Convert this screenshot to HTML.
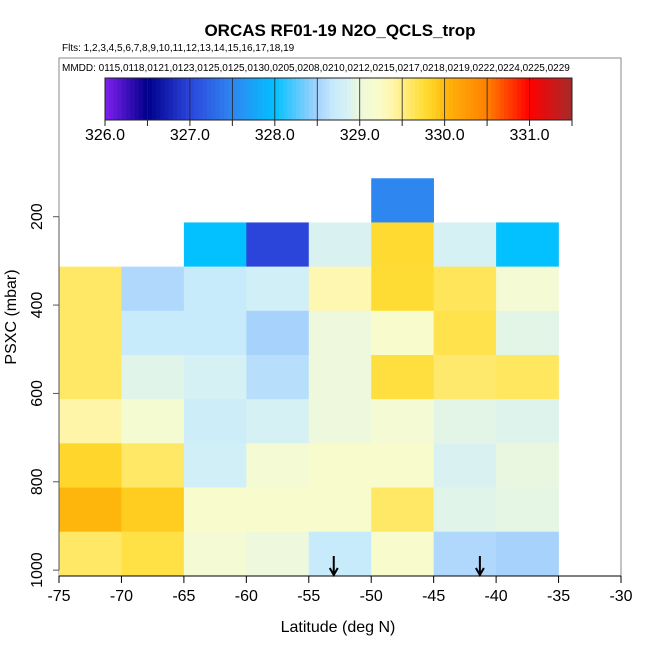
<!DOCTYPE html>
<html><head><meta charset="utf-8"><style>
html,body{margin:0;padding:0;background:#fff;}
svg{display:block;font-family:"Liberation Sans",Arial,sans-serif;}
</style></head><body>
<svg id="chart" width="650" height="650" viewBox="0 0 650 650">
<text x="340" y="36" text-anchor="middle" font-size="17" font-weight="bold">ORCAS RF01-19 N2O_QCLS_trop</text>
<text x="62" y="51" font-size="10">Flts: 1,2,3,4,5,6,7,8,9,10,11,12,13,14,15,16,17,18,19</text>
<rect x="59" y="58" width="562" height="518" fill="none" stroke="#888" stroke-width="1"/>
<text x="62" y="71" font-size="10">MMDD: 0115,0118,0121,0123,0125,0125,0130,0205,0208,0210,0212,0215,0217,0218,0219,0222,0224,0225,0229</text>
<g id="cbar"></g>
<g id="cells"></g>
<g id="axes"></g>
<text x="338" y="632" text-anchor="middle" font-size="16">Latitude (deg N)</text>
<text transform="translate(16,317) rotate(-90)" text-anchor="middle" font-size="16">PSXC (mbar)</text>
</svg>
<script>
const latBins = [-75,-70,-65,-60,-55,-50,-45,-40];
const presBins = [113,213,313,413,513,613,713,813,913];
// N2O values per pressure row (top to bottom), per latitude column; null = no data
const n2oRows = [
 [null,null,null,null,null,327.5,null,null],
 [null,null,328.0,327.0,328.87,329.77,328.85,328.0],
 [329.6,328.55,328.7,328.8,329.35,329.76,329.64,329.1],
 [329.6,328.7,328.7,328.5,329.0,329.2,329.68,328.93],
 [329.6,328.92,328.85,328.6,329.0,329.72,329.58,329.62],
 [329.4,329.15,328.75,328.85,329.0,329.1,328.93,328.9],
 [329.82,329.6,328.8,329.1,329.2,329.2,328.87,328.97],
 [330.0,329.9,329.2,329.2,329.2,329.6,328.92,328.95],
 [329.6,329.7,329.1,329.0,328.7,329.2,328.55,328.5]
];
const xTicks = [-75,-70,-65,-60,-55,-50,-45,-40,-35,-30];
const yTicks = [200,400,600,800,1000];
const cbTicks = [326,327,328,329,330,331];
const arrowLats = [-53,-41.3];
const latStep = 5, presStep = 100;

const stops = [[326.0,'#8020F0'],[326.5,'#00008B'],[327.0,'#2B45DB'],[327.5,'#2E86F0'],[328.0,'#03C0FF'],[328.5,'#A6D2FC'],[328.7,'#C8EBFC'],[328.85,'#D6F1F4'],[329.0,'#EEF8DC'],[329.2,'#F8FCCC'],[329.4,'#FFF5A8'],[329.6,'#FFE866'],[329.75,'#FFDD35'],[329.9,'#FFCD20'],[330.0,'#FFB60C'],[330.5,'#FF8000'],[331.0,'#FF0000'],[331.5,'#A52A2A']];
function hex(c){return [1,3,5].map(i=>parseInt(c.substr(i,2),16));}
function color(v){
  if(v<=stops[0][0])return stops[0][1];
  for(let i=1;i<stops.length;i++){if(v<=stops[i][0]){const a=stops[i-1],b=stops[i];const t=(v-a[0])/(b[0]-a[0]);const ca=hex(a[1]),cb=hex(b[1]);return 'rgb('+ca.map((x,k)=>Math.round(x+(cb[k]-x)*t)).join(',')+')';}}
  return stops[stops.length-1][1];
}
const X = lat => 59 + (lat + 75) * 562 / 45;
const Y = p => 216.7 + (p - 200) * 0.4418;
const CB = v => 105 + (v - 326) * 467 / 5.5;
const NS='http://www.w3.org/2000/svg';
function mk(tag,attrs,parent){const e=document.createElementNS(NS,tag);for(const k in attrs)e.setAttribute(k,attrs[k]);parent.appendChild(e);return e;}

// colorbar
const cbar=document.getElementById('cbar');
for(let i=0;i<110;i++){const v=326+i*0.05;const r=mk('rect',{x:CB(v),y:78,width:CB(v+0.05)-CB(v)+0.5,height:42,fill:color(v+0.025)},cbar);

}
for(let v=326.5;v<331.5;v+=0.5){const l=mk('line',{x1:CB(v),x2:CB(v),y1:78,y2:120,stroke:'#222','stroke-width':0.8},cbar);

}
const cf=mk('rect',{x:105,y:78,width:467,height:42,fill:'none',stroke:'#222'},cbar);


for(let v=326;v<=331.5;v+=0.5){const l=mk('line',{x1:CB(v),x2:CB(v),y1:120,y2:126,stroke:'#222'},cbar);

}
cbTicks.forEach(v=>{const t=mk('text',{x:CB(v),y:140,'text-anchor':'middle','font-size':16},cbar);t.textContent=v.toFixed(1);

});

// heatmap
const cells=document.getElementById('cells');
n2oRows.forEach((row,ri)=>row.forEach((v,ci)=>{if(v===null)return;
const p0=presBins[ri],l0=latBins[ci];
const r=mk('rect',{x:X(l0),y:Y(p0),width:X(l0+latStep)-X(l0)+0.3,height:Y(p0+presStep)-Y(p0)+0.3,fill:color(v)},cells);

}));

// axes
const ax=document.getElementById('axes');
const xl=mk('line',{x1:59,x2:621,y1:576,y2:576,stroke:'#000'},ax);


const yl=mk('line',{x1:59,x2:59,y1:Y(200),y2:Y(1000),stroke:'#555'},ax);


xTicks.forEach(v=>{const l=mk('line',{x1:X(v),x2:X(v),y1:576,y2:583,stroke:'#000'},ax);


const t=mk('text',{x:X(v),y:601,'text-anchor':'middle','font-size':16},ax);t.textContent=v;

});
yTicks.forEach(v=>{const l=mk('line',{x1:53,x2:59,y1:Y(v),y2:Y(v),stroke:'#555'},ax);


const t=mk('text',{transform:'translate(42,'+Y(v)+') rotate(-90)','text-anchor':'middle','font-size':16},ax);t.textContent=v;

});
arrowLats.forEach(v=>{const x=X(v);const p=mk('path',{d:'M'+x+' 556 L'+x+' 575 M'+(x-4)+' 568 L'+x+' 575 L'+(x+4)+' 568',stroke:'#000','stroke-width':2,fill:'none'},ax);

});
</script>
</body></html>
